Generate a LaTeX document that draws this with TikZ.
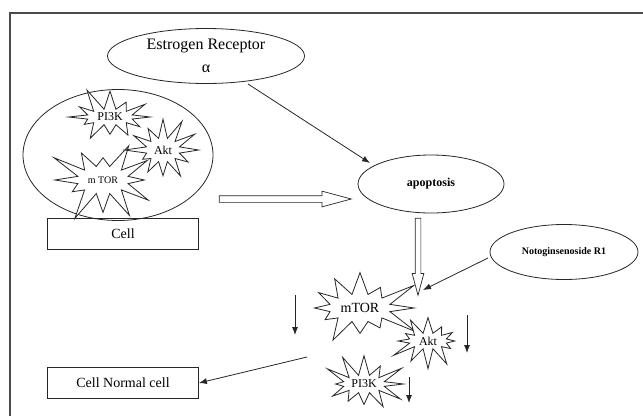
\documentclass[tikz,border=0pt]{standalone}
\usepackage{fontspec}
\setmainfont{Liberation Serif}
\usetikzlibrary{shapes.geometric,shapes.symbols,shapes.arrows,arrows.meta}
\tikzset{
	oval/.style={ellipse, draw=black!85, line width=0.8pt, inner sep=0pt},
	burst/.style={starburst, draw=black!85, fill=white, line width=0.8pt, inner sep=0pt, starburst points=12},
	labelbox/.style={rectangle, draw=black!85, line width=0.8pt, inner sep=0pt, minimum width=151pt, minimum height=31pt, font=\fontsize{14}{16}\selectfont},
	hollow/.style={single arrow, draw=black!85, fill=white, line width=0.7pt, inner xsep=0pt, single arrow head indent=0pt, single arrow tip angle=30},
	thin/.style={-{Latex[length=8pt,width=6pt]}, line width=0.8pt, color=black!85}
}
\begin{document}
\begin{tikzpicture}[x=1pt, y=-1pt]
	\useasboundingbox (0,0) rectangle (643,416);
	% frame
	\coordinate (frameTL) at (10,13);
	\draw [line width=1.2pt, color=black!70] (643,13) -- (frameTL) -- (10,416);

	% top left: receptor and cell
	\node[oval, minimum width=197pt, minimum height=55pt, align=center, font=\fontsize{16}{23}\selectfont](receptor) at (206,56){Estrogen Receptor\\α};
	\node[oval, minimum width=190pt, minimum height=131pt](cellgroup) at (118,155){};
	\node[burst, minimum width=94pt, minimum height=64pt, starburst point height=24pt, random starburst=11, font=\fontsize{12}{14}\selectfont](pithree) at (110,117){PI3K};
	\node[burst, minimum width=116pt, minimum height=92pt, starburst point height=32pt, random starburst=23, font=\fontsize{10}{12}\selectfont](mtor) at (103,180){m TOR};
	\node[burst, minimum width=80pt, minimum height=70pt, starburst point height=23pt, random starburst=37, font=\fontsize{12}{14}\selectfont](akt) at (163,150){Akt};
	\node[labelbox](cell) at (123,234){Cell};

	% right: apoptosis and inhibitor
	\node[oval, minimum width=146pt, minimum height=58pt, font=\bfseries\fontsize{12}{14}\selectfont](apoptosis) at (431,184){apoptosis};
	\node[oval, minimum width=148pt, minimum height=55pt, font=\bfseries\fontsize{10}{12}\selectfont](noto) at (564,252){Notoginsenoside R1};

	% bottom: down regulated pathway
	\node[burst, minimum width=130pt, minimum height=96pt, starburst point height=34pt, random starburst=51, font=\fontsize{14}{16}\selectfont](mtorlow) at (360,308){mTOR};
	\node[burst, minimum width=80pt, minimum height=58pt, starburst point height=21pt, random starburst=67, font=\fontsize{12}{14}\selectfont](aktlow) at (428,341){Akt};
	\node[burst, minimum width=88pt, minimum height=64pt, starburst point height=23pt, random starburst=83, font=\fontsize{12}{14}\selectfont](pithreelow) at (364,384){PI3K};
	\node[labelbox](normal) at (123,383){Cell Normal cell};

	% hollow arrows
	\node[hollow, minimum height=132pt, inner ysep=3pt, single arrow head extend=4.5pt](hollowright) at (279,199){};
	\node[hollow, minimum height=77pt, inner ysep=2.5pt, single arrow head extend=3pt, rotate=270](hollowdown) at (418,251.5){};

	% thin arrows
	\coordinate (rstart) at (248,84);
	\coordinate (apotop) at (370,163);
	\coordinate (nstart) at (488,258);
	\coordinate (target) at (423,290);
	\coordinate (mstart) at (307,357);
	\draw [thin] (rstart) -- (apotop);
	\draw [thin] (nstart) -- (target);
	\draw [thin] (mstart) -- (normal.east);

	% down regulation marks
	\coordinate (downA) at (295,295);
	\coordinate (downB) at (467,315);
	\coordinate (downC) at (409,377);
	\draw [thin] (downA) -- ++(0,40);
	\draw [thin] (downB) -- ++(0,38);
	\draw [thin] (downC) -- ++(0,26);
\end{tikzpicture}
\end{document}
